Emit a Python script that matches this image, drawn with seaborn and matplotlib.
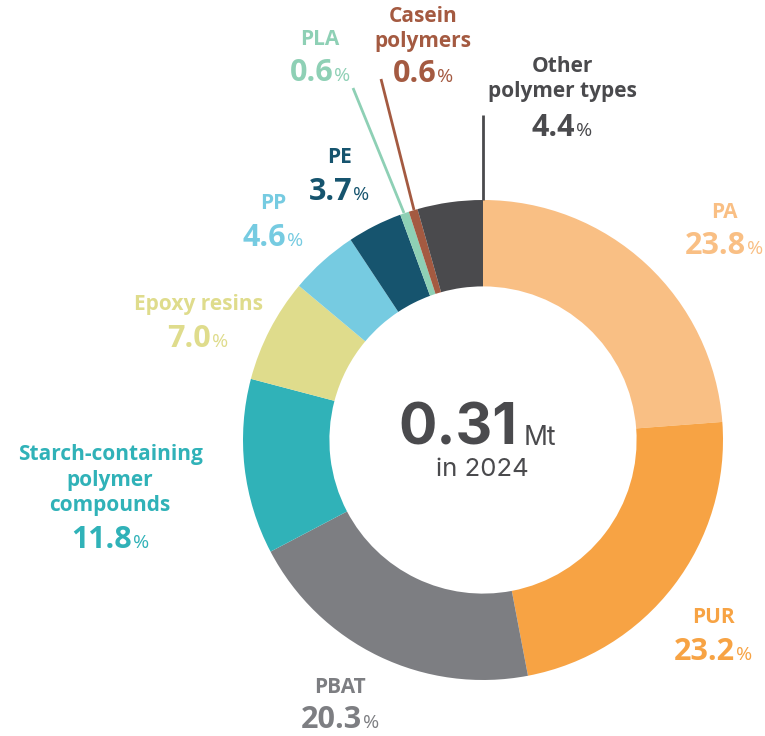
import matplotlib
matplotlib.use("Agg")
import matplotlib.pyplot as plt
import seaborn as sns

# polymer types, clockwise from 12 o'clock
names = ["PA", "PUR", "PBAT", "Starch-containing\npolymer\ncompounds", "Epoxy resins",
         "PP", "PE", "PLA", "Casein\npolymers", "Other\npolymer types"]
shares = [23.8, 23.2, 20.3, 11.8, 7.0, 4.6, 3.7, 0.6, 0.6, 4.4]
colors = ["#F9BF84", "#F7A344", "#7D7E82", "#30B2B8", "#DFDC8C",
          "#76CBE1", "#16546E", "#8ED0B5", "#A45A41", "#4A4A4D"]
total_mt = "0.31"
year = "2024"

W, H = 765, 736
CX, CY, R = 483, 440, 240  # ring centre and outer radius in pixels

sns.set_theme(style="white")
plt.rcParams['font.family'] = ['Open Sans', 'DejaVu Sans']

fig = plt.figure(figsize=(W / 100, H / 100), dpi=100)
ax = fig.add_axes([0, 0, 1, 1])
ax.pie(shares, colors=sns.color_palette(colors), startangle=90, counterclock=False,
       radius=1, center=(0, 0), wedgeprops=dict(width=0.36, linewidth=0))
ax.set_xlim(-CX / R, (W - CX) / R)
ax.set_ylim(-(H - CY) / R, CY / R)
ax.set_aspect("equal")
ax.axis("off")


def px(x, y):
    # pixel (top-left origin) -> data coords
    return (x - CX) / R, (CY - y) / R


renderer = fig.canvas.get_renderer()


def pair(x, y, big, small, color, bigsize, smallsize, font, gap=0, bigweight="bold"):
    # big text followed by a smaller one, centred on x, baseline at y
    t1 = ax.text(*px(x, y), big, color=color, fontsize=bigsize, fontweight=bigweight,
                 family=font, ha="left", va="baseline")
    t2 = ax.text(*px(x, y), small, color=color, fontsize=smallsize, family=font,
                 ha="left", va="baseline")
    w1 = t1.get_window_extent(renderer).width
    w2 = t2.get_window_extent(renderer).width
    start = x - (w1 + gap + w2) / 2
    t1.set_position(px(start, y))
    t2.set_position(px(start + w1 + gap, y))


def label(x, y_name, name, value, color, value_y):
    ax.text(*px(x, y_name), name, color=color, fontsize=15, fontweight="bold",
            ha="center", va="baseline", linespacing=1.28)
    pair(x, value_y, value, "%", color, 22, 14, ['Open Sans'], gap=1)


# positions of each label: (x, baseline of last name line, baseline of value)
spots = [(724, 218, 254), (713, 623, 660), (340, 693, 728), (110, 511, 548),
         (198, 310, 347), (273, 209, 246), (339, 163, 200), (320, 45, 81),
         (423, 47, 82), (562, 97, 136)]

for nm, val, col, (x, yn, yv) in zip(names, shares, colors, spots):
    label(x, yn, nm, f"{val:.1f}", col, yv)

# leader lines for the thin top slices
ax.plot(*zip(px(353, 88), px(404, 213)), color=colors[7], lw=2, solid_capstyle="butt")
ax.plot(*zip(px(381, 79), px(414, 210)), color=colors[8], lw=2, solid_capstyle="butt")
ax.plot(*zip(px(483, 115), px(483, 200)), color=colors[9], lw=2, solid_capstyle="butt")

# centre text
pair(477, 445, total_mt, "Mt", "#4A4A4D", 41, 19, ['Inter'], gap=6)
ax.text(*px(482, 476), f"in {year}", color="#4A4A4D", fontsize=18.5, family="Inter",
        ha="center", va="baseline")

fig.savefig("out.png", dpi=100)
